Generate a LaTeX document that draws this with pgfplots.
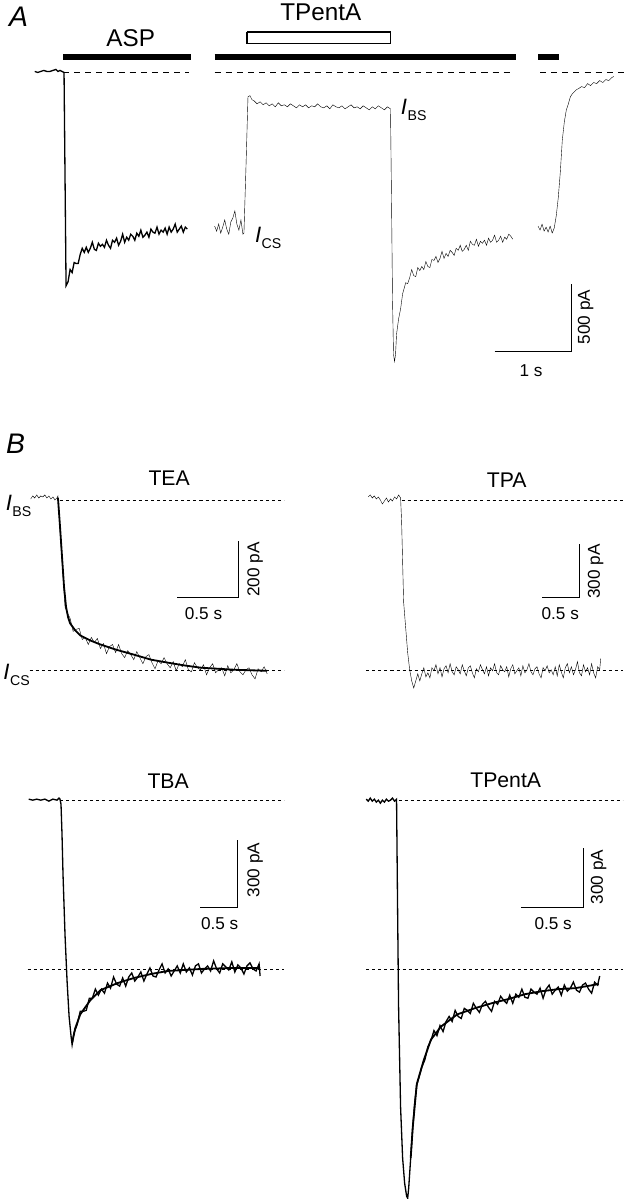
\documentclass[border=0pt]{standalone}
\usepackage{fontspec}
\setmainfont{Liberation Sans}
\usepackage{pgfplots}
\pgfplotsset{compat=1.18}

\newcommand{\fs}[1]{\fontsize{#1}{#1}\selectfont}
\newcommand{\cur}[2]{\textit{I}\kern0.5pt\raisebox{-#2pt}{\fs{14}#1}}

\begin{document}
\begin{tikzpicture}
\begin{axis}[scale only axis, width=625pt, height=1199pt,
  xmin=0, xmax=625, ymin=0, ymax=1199, y dir=reverse,
  hide axis, clip=false,
  cycle list={{black, solid, line width=1.3pt, mark=none, line join=round}}]

% ---------- panel A ----------
% application bars
\addplot[line width=6pt] coordinates {(63,61) (190,61)};
\addplot[line width=6pt] coordinates {(213,61) (511,61)};
\addplot[line width=6pt] coordinates {(533,61) (554,61)};
\addplot[line width=1.2pt] coordinates {(245,36) (387,36) (387,47) (245,47) (245,36)};
% zero-current lines
\addplot[line width=0.8pt, dash pattern=on 6pt off 5pt] coordinates {(63,76) (188,76)};
\addplot[line width=0.8pt, dash pattern=on 6pt off 5pt] coordinates {(213,76) (508,76)};
\addplot[line width=0.8pt, dash pattern=on 6pt off 5pt] coordinates {(535,76) (620,76)};

% ASP response
\addplot coordinates {
(35,75) (38,76) (41,75) (44,74) (47,75) (50,75) (53,74) (56,73) (58,75) (60,74) (62,75) (64,76)
(66,287) (68,283) (70,271) (72,274) (74,264) (76,265) (78,265) (80,256) (82,250) (84,254)
(86,249) (88,254) (90,250) (92,244) (94,251) (96,252) (98,245) (100,248) (102,246) (104,249)
(106,242) (108,247) (110,250) (112,242) (114,244) (116,240) (118,247) (120,243) (122,236) (124,244)
(126,239) (128,242) (130,236) (132,238) (134,242) (136,235) (138,238) (140,232) (142,239) (144,237)
(146,234) (148,239) (150,231) (152,234) (154,235) (156,229) (158,236) (160,232) (162,234) (164,230)
(166,236) (168,229) (170,234) (172,231) (174,226) (176,234) (178,231) (180,228) (182,234) (184,229)
(186,231)
};
% ASP + TPentA, then TPentA washout
\addplot coordinates {
(213,228) (215,233) (217,226) (219,235) (221,229) (223,222) (225,231) (227,236) (229,224) (231,220)
(233,213) (235,226) (237,232) (239,222) (241,236) (242,235) (244,170) (246,100) (248,99) (250,103)
(252,104) (255,107) (258,105) (261,108) (264,106) (267,109) (270,107) (273,110) (276,106) (279,109)
(282,108) (285,110) (288,107) (291,109) (294,111) (297,108) (300,110) (303,108) (306,111) (309,109)
(312,110) (315,107) (318,110) (321,111) (324,109) (327,112) (330,108) (333,110) (336,111) (339,109)
(342,112) (345,110) (348,108) (351,111) (354,110) (357,112) (360,109) (363,111) (366,113) (369,110)
(372,112) (375,109) (378,111) (381,113) (384,110) (387,112)
(388,200) (389,300) (390,355) (391,362) (392,355) (393,335) (395,320) (397,310) (399,295) (401,288)
(402,284) (404,285) (406,279) (408,271) (410,277) (412,278) (414,269) (416,272) (418,268) (420,271)
(422,263) (424,268) (426,269) (428,261) (430,262) (432,258) (434,264) (436,260) (438,253) (440,260)
(442,255) (444,258) (446,252) (448,254) (450,257) (452,250) (454,252) (456,247) (458,253) (460,251)
(462,247) (464,252) (466,243) (468,246) (470,247) (472,241) (474,248) (476,243) (478,245) (480,242)
(482,247) (484,240) (486,244) (488,242) (490,237) (492,244) (494,242) (496,238) (498,244) (500,239)
(502,241) (504,236) (506,238) (508,241)
};
% recovery after ASP
\addplot coordinates {
(533,228) (535,232) (537,226) (539,233) (541,229) (543,234) (545,228) (547,235) (549,230) (551,218)
(553,200) (555,175) (557,143) (559,125) (561,113) (563,107) (565,100) (567,97) (569,95) (571,93)
(573,92) (576,90) (579,91) (582,87) (585,89) (588,86) (591,87) (594,84) (597,86) (600,83)
(603,84) (606,81) (608,80)
};
% scale bar A
\addplot[line width=1pt] coordinates {(490,352) (566,352) (566,285)};

\node[font=\fs{28}\itshape] at (axis cs:19,21) {A};
\node[font=\fs{24}] at (axis cs:130,42) {ASP};
\node[font=\fs{24}] at (axis cs:318,16) {TPentA};
\node[font=\fs{22}] at (axis cs:266,240) {\cur{CS}{6}};
\node[font=\fs{22}] at (axis cs:410,113) {\cur{BS}{6}};
\node[font=\fs{17}, rotate=90] at (axis cs:580,318) {500 pA};
\node[font=\fs{17}] at (axis cs:526,371) {1 s};

% ---------- panel B ----------
\node[font=\fs{28}\itshape] at (axis cs:16,443) {B};

% TEA
\addplot[line width=0.8pt, dash pattern=on 3pt off 3pt] coordinates {(60,499) (282,499)};
\addplot[line width=0.8pt, dash pattern=on 3pt off 3pt] coordinates {(30,668) (282,668)};
\addplot coordinates {
(31,498) (33,495) (35,497) (37,494) (39,497) (41,495) (43,496) (45,494) (47,497) (49,495)
(51,498) (53,496) (55,499) (57,497) (58,495) (59,510) (60,530) (62,560) (64,590) (65,605)
(67,610) (70,616) (73,629) (76,627) (79,626) (82,637) (85,635) (88,642) (91,635) (94,640)
(97,636) (100,646) (103,641) (106,651) (109,644) (112,642) (115,650) (118,642) (121,651) (124,655)
(127,648) (130,652) (133,657) (136,649) (139,655) (142,661) (145,654) (148,652) (151,660) (154,666)
(157,658) (160,661) (163,655) (166,661) (169,665) (172,659) (175,668) (178,661) (181,664) (184,657)
(187,667) (190,669) (193,660) (196,665) (199,667) (202,662) (205,672) (208,665) (211,661) (214,670)
(217,667) (220,665) (223,673) (226,663) (229,670) (232,667) (235,661) (238,669) (241,672) (244,667)
(247,665) (250,672) (253,676) (256,666) (259,669) (262,664) (265,671)
};
\addplot[line width=1.8pt] coordinates {
(58,497) (60,525) (62,555) (64,585) (66,605) (68,615) (70,621) (75,628) (80,633) (90,638)
(100,642) (115,647) (133,652) (150,657) (167,660) (185,663) (200,665) (233,667) (265,668)
};
\addplot[line width=1pt] coordinates {(176,595) (237,595) (237,540)};
\node[font=\fs{21}] at (axis cs:168,477) {TEA};
\node[font=\fs{17}] at (axis cs:202,611) {0.5 s};
\node[font=\fs{17}, rotate=90] at (axis cs:253,568) {200 pA};
\node[font=\fs{22}] at (axis cs:19,505) {\cur{BS}{6}};
\node[font=\fs{22}] at (axis cs:17,672) {\cur{CS}{6}};

% TPA
\addplot[line width=0.8pt, dash pattern=on 3pt off 3pt] coordinates {(398,499) (617,499)};
\addplot[line width=0.8pt, dash pattern=on 3pt off 3pt] coordinates {(363,668) (617,668)};
\addplot coordinates {
(365,496) (367,494) (369,497) (371,495) (373,498) (375,496) (377,499) (379,503) (381,500) (383,497)
(385,501) (387,498) (389,500) (391,496) (393,498) (395,494) (397,497) (398,520) (399,560) (400,600)
(402,625) (404,650) (406,667) (408,678) (410,685)
(412,678) (414,671) (416,678) (418,671) (420,665) (422,674) (424,670) (426,675) (428,665) (430,668)
(432,662) (434,671) (436,665) (438,674) (440,666) (442,663) (444,670) (446,661) (448,669) (450,672)
(452,664) (454,667) (456,671) (458,662) (460,668) (462,673) (464,665) (466,663) (468,670) (470,675)
(472,666) (474,669) (476,662) (478,667) (480,671) (482,664) (484,673) (486,665) (488,668) (490,661)
(492,670) (494,672) (496,663) (498,667) (500,669) (502,664) (504,674) (506,666) (508,662) (510,671)
(512,668) (514,665) (516,673) (518,663) (520,670) (522,667) (524,661) (526,669) (528,672) (530,666)
(532,664) (534,671) (536,675) (538,665) (540,668) (542,663) (544,670) (546,667) (548,672) (550,664)
(552,673) (554,662) (556,669) (558,675) (560,665) (562,661) (564,670) (566,664) (568,672) (570,667)
(572,659) (574,670) (576,673) (578,662) (580,669) (582,665) (584,672) (586,661) (588,670) (590,675)
(592,664) (594,667) (595,656)
};
\addplot[line width=1pt] coordinates {(537,595) (574,595) (574,543)};
\node[font=\fs{21}] at (axis cs:502,479) {TPA};
\node[font=\fs{17}] at (axis cs:555,611) {0.5 s};
\node[font=\fs{17}, rotate=90] at (axis cs:590,570) {300 pA};

% TBA
\addplot[line width=0.8pt, dash pattern=on 3pt off 3pt] coordinates {(60,796) (282,796)};
\addplot[line width=0.8pt, dash pattern=on 3pt off 3pt] coordinates {(28,963) (282,963)};
\addplot coordinates {
(29,795) (33,796) (37,795) (41,796) (45,795) (49,797) (53,795) (57,796) (59,794) (60,795)
(61,800) (62,830) (63,870) (65,930) (67,975) (69,1010) (71,1030) (72,1038)
(74,1026) (77,1018) (80,1005) (83,1005) (86,1004) (89,992) (92,992) (95,983) (98,989) (101,983)
(104,987) (107,977) (110,982) (113,971) (116,978) (119,980) (122,972) (125,980) (128,971) (131,967)
(134,975) (137,971) (140,966) (143,975) (146,968) (149,962) (152,970) (155,971) (158,964) (161,958)
(164,967) (167,963) (170,970) (173,965) (176,960) (179,967) (182,958) (185,966) (188,962) (191,969)
(194,960) (197,958) (200,967) (203,963) (206,960) (209,965) (212,955) (215,963) (218,967) (221,958)
(224,961) (227,964) (230,956) (233,966) (236,959) (239,962) (242,968) (245,960) (248,957) (251,963)
(254,965) (257,958) (258,970)
};
\addplot[line width=1.8pt] coordinates {
(72,1036) (75,1022) (80,1008) (90,994) (100,984) (117,977) (133,972) (150,968) (167,965) (200,963)
(233,962) (258,962)
};
\addplot[line width=1pt] coordinates {(199,902) (236,902) (236,835)};
\node[font=\fs{21}] at (axis cs:167,777) {TBA};
\node[font=\fs{17}] at (axis cs:218,918) {0.5 s};
\node[font=\fs{17}, rotate=90] at (axis cs:253,865) {300 pA};

% TPentA
\addplot[line width=0.8pt, dash pattern=on 3pt off 3pt] coordinates {(395,796) (617,796)};
\addplot[line width=0.8pt, dash pattern=on 3pt off 3pt] coordinates {(363,963) (617,963)};
\addplot coordinates {
(363,795) (365,797) (367,794) (369,797) (371,795) (373,798) (375,796) (377,799) (379,796) (381,798)
(383,795) (385,797) (387,796) (389,794) (391,797) (393,795) (394,900) (395,1000) (397,1100) (399,1150)
(401,1175) (403,1188) (404,1190) (405,1180) (407,1150) (409,1120) (411,1095) (413,1078)
(415,1071) (418,1060) (421,1053) (424,1040) (427,1034) (430,1024) (433,1029) (436,1019) (439,1025) (442,1015)
(445,1010) (448,1015) (451,1004) (454,1010) (457,1012) (460,1002) (463,1004) (466,1007) (469,997) (472,1002)
(475,1006) (478,998) (481,995) (484,1001) (487,1005) (490,995) (493,998) (496,990) (499,994) (502,997)
(505,989) (508,997) (511,988) (514,991) (517,983) (520,991) (523,992) (526,983) (529,986) (532,988)
(535,982) (538,992) (541,983) (544,979) (547,988) (550,984) (553,981) (556,989) (559,979) (562,985)
(565,982) (568,976) (571,984) (574,986) (577,979) (580,977) (583,983) (586,987) (589,976) (592,979)
(594,970)
};
\addplot[line width=1.8pt] coordinates {
(407,1150) (409,1120) (413,1077) (420,1053) (427,1033) (437,1020) (453,1008) (470,1002) (487,997) (503,993)
(520,988) (537,985) (553,983) (570,982) (593,978)
};
\addplot[line width=1pt] coordinates {(516,902) (578,902) (578,843)};
\node[font=\fs{21}] at (axis cs:501,776) {TPentA};
\node[font=\fs{17}] at (axis cs:548,918) {0.5 s};
\node[font=\fs{17}, rotate=90] at (axis cs:593,872) {300 pA};

\end{axis}
\end{tikzpicture}
\end{document}
